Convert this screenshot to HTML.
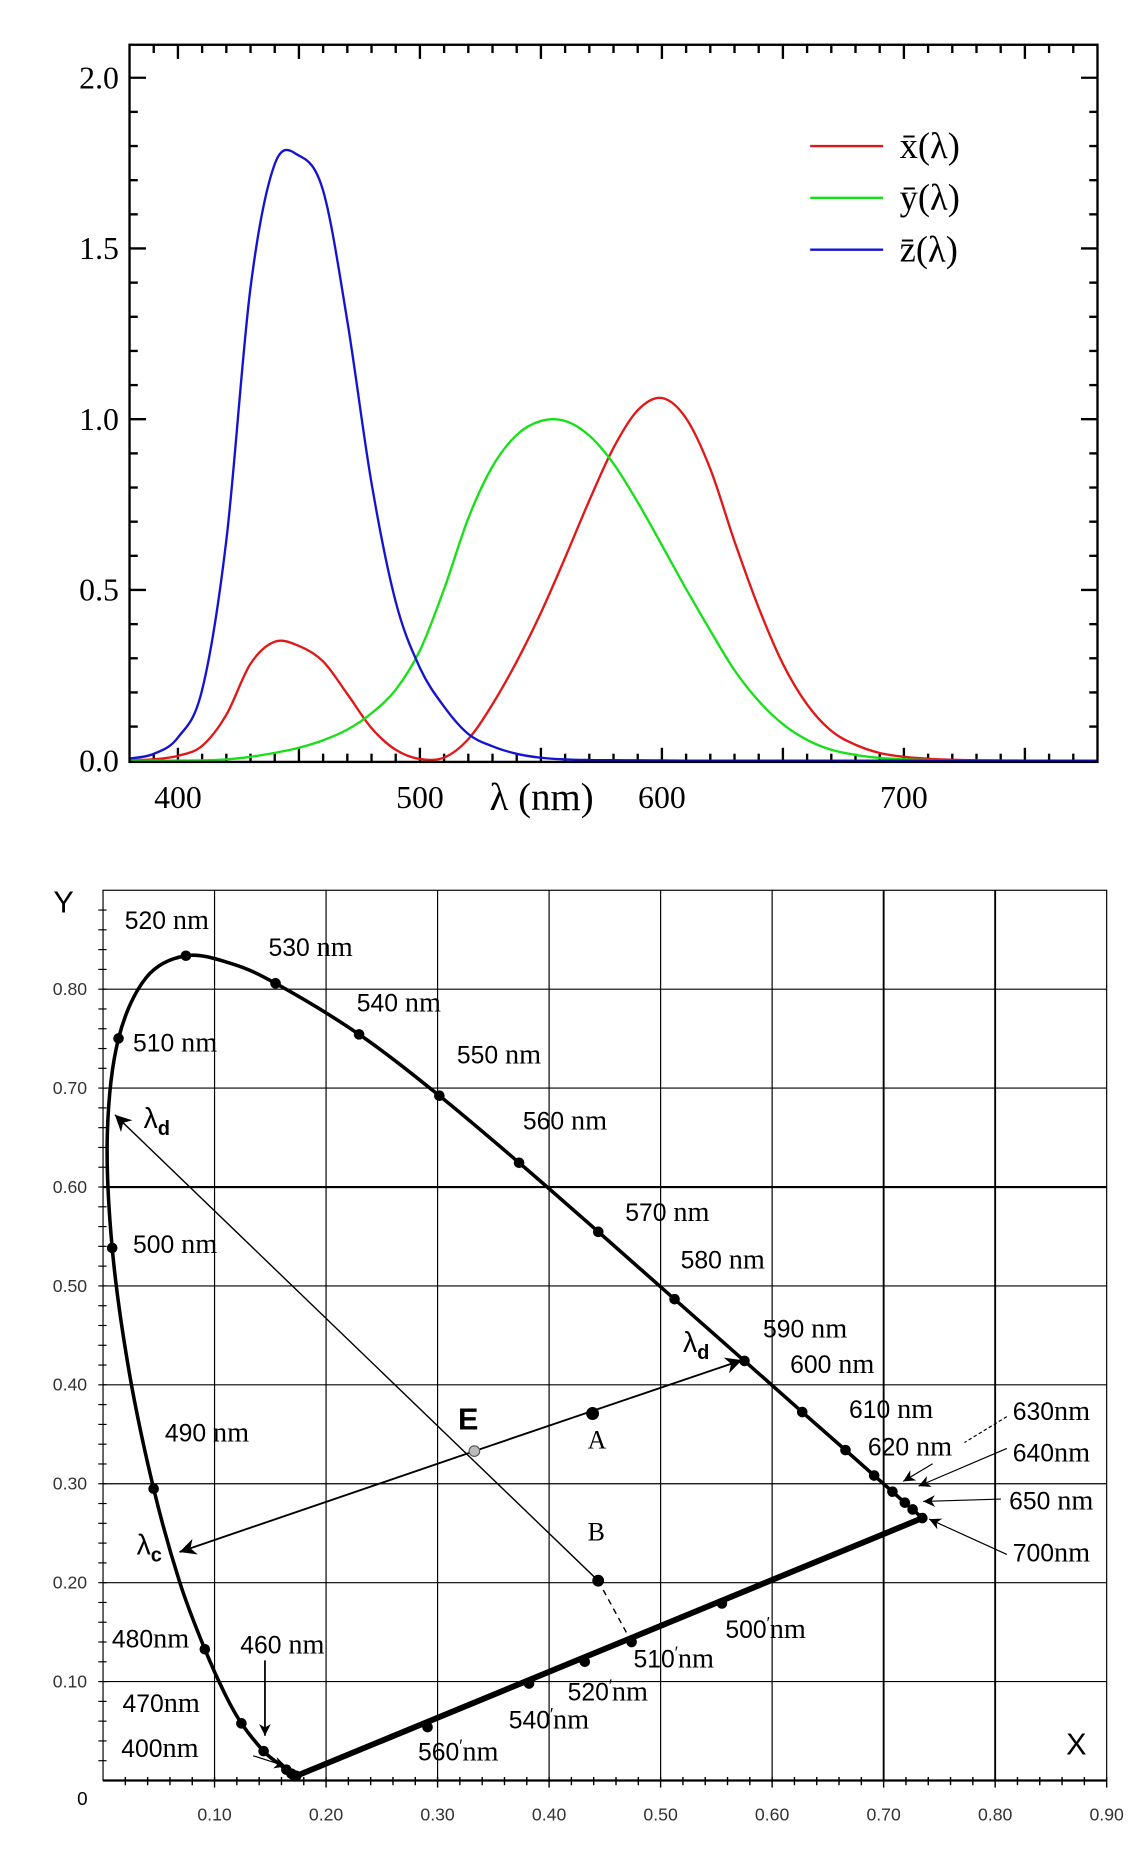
<!DOCTYPE html>
<html><head><meta charset="utf-8">
<style>
html,body{margin:0;padding:0;background:#fff;}
svg{display:block;}
</style></head>
<body>
<svg id="root" xmlns="http://www.w3.org/2000/svg" width="1140" height="1850" viewBox="0 0 968.1 1571">
<rect x="0" y="0" width="968.1" height="1571" fill="#fff"/>
<g id="top"></g>
<g id="bot"></g>
</svg>
<script>
// ---- Top chart data (CIE 1931 colour matching functions) ----
const wavelengths = [380,390,400,410,420,430,440,450,460,470,480,490,500,510,520,530,540,550,560,570,580,590,600,610,620,630,640,650,660,670,680,690,700,710,720,730,740,750,760,770,780];
const xBar = [0.0014,0.0042,0.0143,0.0435,0.1344,0.2839,0.3483,0.3362,0.2908,0.1954,0.0956,0.0320,0.0049,0.0093,0.0633,0.1655,0.2904,0.4334,0.5945,0.7621,0.9163,1.0263,1.0622,1.0026,0.8544,0.6424,0.4479,0.2835,0.1649,0.0874,0.0468,0.0227,0.0114,0.0058,0.0029,0.0014,0.0007,0.0003,0.0002,0.0001,0.0000];
const yBar = [0.0000,0.0001,0.0004,0.0012,0.0040,0.0116,0.0230,0.0380,0.0600,0.0910,0.1390,0.2080,0.3230,0.5030,0.7100,0.8620,0.9540,0.9950,0.9950,0.9520,0.8700,0.7570,0.6310,0.5030,0.3810,0.2650,0.1750,0.1070,0.0610,0.0320,0.0170,0.0082,0.0041,0.0021,0.0010,0.0005,0.0003,0.0001,0.0001,0.0000,0.0000];
const zBar = [0.0065,0.0201,0.0679,0.2074,0.6456,1.3856,1.7471,1.7721,1.6692,1.2876,0.8130,0.4652,0.2720,0.1582,0.0782,0.0422,0.0203,0.0087,0.0039,0.0021,0.0017,0.0011,0.0008,0.0003,0.0002,0,0,0,0,0,0,0,0,0,0,0,0,0,0,0,0];
const topYTicks = ["0.0","0.5","1.0","1.5","2.0"];
const topXTicks = [400,500,600,700];

// ---- Bottom chart data (CIE 1931 chromaticity) ----
const locusNm = [380,400,420,430,440,450,460,470,475,480,485,490,495,500,505,510,515,520,525,530,540,550,560,570,580,590,600,610,620,630,640,650,700];
const locusX = [0.1741,0.1733,0.1714,0.1689,0.1644,0.1566,0.1440,0.1241,0.1096,0.0913,0.0687,0.0454,0.0235,0.0082,0.0039,0.0139,0.0389,0.0743,0.1142,0.1547,0.2296,0.3016,0.3731,0.4441,0.5125,0.5752,0.6270,0.6658,0.6915,0.7079,0.7190,0.7260,0.7347];
const locusY = [0.0050,0.0048,0.0051,0.0069,0.0109,0.0177,0.0297,0.0578,0.0868,0.1327,0.2007,0.2950,0.4127,0.5384,0.6548,0.7502,0.8120,0.8338,0.8262,0.8059,0.7543,0.6923,0.6245,0.5547,0.4866,0.4242,0.3725,0.3340,0.3083,0.2920,0.2809,0.2740,0.2653];
const dotNm = [400,420,430,440,460,470,480,490,500,510,520,530,540,550,560,570,580,590,600,610,620,630,640,650,700];
const purpleNames = ["560'","540'","520'","510'","500'"];
const purpleX = [0.291,0.382,0.432,0.474,0.555];
const purpleY = [0.054,0.098,0.120,0.140,0.179];
const pointE = [0.333,0.333];
const pointA = [0.439,0.371];
const pointB = [0.444,0.202];
const lambdaD1 = [0.0106,0.673];
const lambdaD2 = [0.573,0.425];
const lambdaC = [0.0686,0.231];
const chromTicks = ["0.10","0.20","0.30","0.40","0.50","0.60","0.70","0.80","0.90"];
const chromYTicks = ["0.10","0.20","0.30","0.40","0.50","0.60","0.70","0.80"];

const NS="http://www.w3.org/2000/svg";
function mk(parent,tag,attrs,txt){const e=document.createElementNS(NS,tag);for(const k in attrs)e.setAttribute(k,attrs[k]);if(txt!==undefined)e.textContent=txt;parent.appendChild(e);return e;}
function smooth(pts){let d="M"+pts[0][0].toFixed(2)+","+pts[0][1].toFixed(2);for(let i=0;i<pts.length-1;i++){const p0=pts[i-1]||pts[i],p1=pts[i],p2=pts[i+1],p3=pts[i+2]||p2;const c1=[p1[0]+(p2[0]-p0[0])/6,p1[1]+(p2[1]-p0[1])/6],c2=[p2[0]-(p3[0]-p1[0])/6,p2[1]-(p3[1]-p1[1])/6];d+="C"+c1[0].toFixed(2)+","+c1[1].toFixed(2)+" "+c2[0].toFixed(2)+","+c2[1].toFixed(2)+" "+p2[0].toFixed(2)+","+p2[1].toFixed(2);}return d;}

// ===== TOP CHART =====
const T=document.getElementById('top');
const tL=110,tR=932,tT=38,tB=647;
const tx=nm=>tL+(nm-380)/400*(tR-tL);
const ty=v=>646-v*290;
const serif='"Liberation Serif", serif';
for(let nm=390;nm<780;nm+=10){const long=nm%50===0;const len=long?12:7;
 let t=mk(T,'line',{x1:tx(nm),x2:tx(nm),y1:tT,y2:tT+len,stroke:'#000','stroke-width':2});
 
 t=mk(T,'line',{x1:tx(nm),x2:tx(nm),y1:tB,y2:tB-len,stroke:'#000','stroke-width':2});
 }
for(let i=1;i<=20;i++){const v=i/10;const long=i%5===0;const len=long?14:7;
 let t=mk(T,'line',{x1:tL,x2:tL+len,y1:ty(v),y2:ty(v),stroke:'#000','stroke-width':2});
 
 t=mk(T,'line',{x1:tR,x2:tR-len,y1:ty(v),y2:ty(v),stroke:'#000','stroke-width':2});
 }
topYTicks.forEach(s=>{const t=mk(T,'text',{x:101,y:ty(parseFloat(s))+9,'font-family':serif,'font-size':27,'text-anchor':'end'},s);
 });
topXTicks.forEach(n=>{const t=mk(T,'text',{x:tx(n),y:686,'font-family':serif,'font-size':27,'text-anchor':'middle'},String(n));
 });
let xl=mk(T,'text',{x:460,y:688,'font-family':serif,'font-size':33,'text-anchor':'middle'},'λ (nm)');

[[xBar,'#e01818','curve-x-bar'],[yBar,'#18e018','curve-y-bar'],[zBar,'#1414d0','curve-z-bar']].forEach(([arr,c,n])=>{
 const p=mk(T,'path',{d:smooth(wavelengths.map((w,i)=>[tx(w),ty(arr[i])])),fill:'none',stroke:c,'stroke-width':2});
 });
let fr=mk(T,'rect',{x:tL,y:tT,width:tR-tL,height:tB-tT,fill:'none',stroke:'#000','stroke-width':2});

[['x̄(λ)','#e01818',124],['ȳ(λ)','#18e018',168],['z̄(λ)','#1414d0',212]].forEach(([s,c,y])=>{
 const g=mk(T,'g',{});
 mk(g,'line',{x1:688,x2:750,y1:y,y2:y,stroke:c,'stroke-width':2});
 mk(g,'text',{x:764,y:y+10,'font-family':serif,'font-size':31},s);});

// ===== BOTTOM CHART =====
const B=document.getElementById('bot');
const bx=v=>87.5+v*947;
const by=v=>1512-v*840;
const sans='"Liberation Sans", sans-serif';
for(let i=1;i<=8;i++){const v=i/10;
 let g=mk(B,'line',{x1:bx(v),x2:bx(v),y1:by(0.9),y2:by(0),stroke:'#000','stroke-width':(i===7||i===8)?1.6:1});
 
 g=mk(B,'line',{x1:bx(0),x2:bx(0.9),y1:by(v),y2:by(v),stroke:'#000','stroke-width':i===6?1.8:1});
 }
let bf=mk(B,'rect',{x:bx(0),y:by(0.9),width:bx(0.9)-bx(0),height:by(0)-by(0.9),fill:'none',stroke:'#000','stroke-width':1});

let ax=mk(B,'line',{x1:bx(0),x2:bx(0.9),y1:by(0),y2:by(0),stroke:'#000','stroke-width':2});

for(let i=1;i<=45;i++){const v=i/50;const len=i%5===0?6:4;
 const t=mk(B,'line',{x1:bx(v),x2:bx(v),y1:by(0)-3,y2:by(0)+len,stroke:'#000','stroke-width':1.2});
 }
for(let i=1;i<=44;i++){const v=i/50;
 const t=mk(B,'line',{x1:bx(0)-4,x2:bx(0)+3,y1:by(v),y2:by(v),stroke:'#000','stroke-width':1});
 }
chromTicks.forEach(s=>{const t=mk(B,'text',{x:bx(parseFloat(s)),y:1546,'font-family':sans,'font-size':15,fill:'#333','text-anchor':'middle'},s);
 });
chromYTicks.forEach(s=>{const t=mk(B,'text',{x:74,y:by(parseFloat(s))+5,'font-family':sans,'font-size':15,fill:'#333','text-anchor':'end'},s);
 });
let z=mk(B,'text',{x:70,y:1533,'font-family':sans,'font-size':16,'text-anchor':'middle'},'0');

let ya=mk(B,'text',{x:54,y:775,'font-family':sans,'font-size':26,'text-anchor':'middle'},'Y');

let xa=mk(B,'text',{x:914,y:1490,'font-family':sans,'font-size':26,'text-anchor':'middle'},'X');

let loc=mk(B,'path',{d:smooth(locusX.map((x,i)=>[bx(x),by(locusY[i])])),fill:'none',stroke:'#000','stroke-width':3});

const last=locusX.length-1;
let pl=mk(B,'line',{x1:bx(locusX[0]),y1:by(locusY[0]),x2:bx(locusX[last]),y2:by(locusY[last]),stroke:'#000','stroke-width':5});

dotNm.forEach(n=>{const i=locusNm.indexOf(n);const d=mk(B,'circle',{cx:bx(locusX[i]),cy:by(locusY[i]),r:4.5,fill:'#000'});
 });
purpleX.forEach((x,i)=>{const d=mk(B,'circle',{cx:bx(x),cy:by(purpleY[i]),r:4.5,fill:'#000'});
 });
const defs=mk(B,'defs',{});
const m=mk(defs,'marker',{id:'ah',viewBox:'0 0 10 10',refX:10,refY:5,markerWidth:14,markerHeight:10,orient:'auto',markerUnits:'userSpaceOnUse'});
mk(m,'path',{d:'M0,0 L10,5 L0,10 L3,5 z',fill:'#000'});
const m2=mk(defs,'marker',{id:'ah2',viewBox:'0 0 10 10',refX:10,refY:5,markerWidth:22,markerHeight:14,orient:'auto',markerUnits:'userSpaceOnUse'});
mk(m2,'path',{d:'M0,0 L10,5 L0,10 L3,5 z',fill:'#000'});
function line(p,q,w,name,mark,dash){const l=mk(B,'line',{x1:p[0],y1:p[1],x2:q[0],y2:q[1],stroke:'#000','stroke-width':w});
 if(mark)l.setAttribute('marker-end','url(#'+mark+')');if(dash)l.setAttribute('stroke-dasharray',dash);
 return l;}
const P=a=>[bx(a[0]),by(a[1])];
line(P(pointE),P(lambdaD2),1.6,'line-e-to-dominant','ah2');
line(P(pointE),P(lambdaC),1.6,'line-e-to-complementary','ah2');
line(P(pointB),P(lambdaD1),1.2,'line-b-to-dominant','ah2');
line(P(pointB),P([purpleX[3],purpleY[3]]),1.2,'line-b-to-purple',null,'5,4');
[[pointA,'#000',5.5,'point-a'],[pointB,'#000',5,'point-b'],[pointE,'#bbb',4.5,'point-e']].forEach(([p,c,r,n])=>{
 const d=mk(B,'circle',{cx:bx(p[0]),cy:by(p[1]),r:r,fill:c,stroke:n==='point-e'?'#555':'none','stroke-width':1});
 });
line([225,1410],[225,1474],1.5,'arrow-460','ah');
line([215,1491],[243,1500],1,'pointer-400','ah');
line([855,1203],[819,1225],1,'pointer-630',null,'3,2');
line([792,1243],[767,1258],1,'arrow-620','ah');
line([855,1230],[780,1262],1,'arrow-640','ah');
line([850,1273],[784,1275],1,'arrow-650','ah');
line([855,1320],[789,1290],1,'arrow-700','ah');
const labels=[
 ['520 nm',106,789],['530 nm',228,812],['540 nm',303,859],['550 nm',388,903],['560 nm',444,959],
 ['570 nm',531,1037],['580 nm',578,1077],['590 nm',648,1136],['600 nm',671,1166],['610 nm',721,1204],
 ['620 nm',737,1236],['630nm',860,1206],['640nm',860,1241],['650 nm',857,1282],['700nm',860,1326],
 ['510 nm',113,893],['500 nm',113,1064],['490 nm',140,1224],['480nm',95,1399],['460 nm',204,1404],
 ['470nm',104,1454],['400nm',103,1492]];
labels.forEach(([s,x,y])=>{const parts=s.split(/(nm)/);const t=mk(B,'text',{x:x,y:y,'font-family':sans,'font-size':21});
 
 mk(t,'tspan',{},parts[0]);mk(t,'tspan',{'font-family':serif,'font-size':24},'nm');});
const plabels=[["560'",355,1495],["540'",432,1468],["520'",482,1444],["510'",538,1416],["500'",616,1391]];
plabels.forEach(([s,x,y])=>{const t=mk(B,'text',{x:x,y:y,'font-family':sans,'font-size':21});
 
 mk(t,'tspan',{},s.replace("'",""));mk(t,'tspan',{'font-size':14,dy:-8},"′");mk(t,'tspan',{'font-family':serif,'font-size':24,dy:8},'nm');});
let e=mk(B,'text',{x:389,y:1214,'font-family':sans,'font-size':26,'font-weight':'bold'},'E');

let a=mk(B,'text',{x:499,y:1230,'font-family':serif,'font-size':22},'A');

let bb=mk(B,'text',{x:499,y:1308,'font-family':serif,'font-size':22},'B');

[['d',122,958,'label-lambda-d-left'],['d',580,1148,'label-lambda-d-right'],['c',116,1320,'label-lambda-c']].forEach(([sub,x,y,n])=>{
 const t=mk(B,'text',{x:x,y:y,'font-family':sans,'font-size':24});
 mk(t,'tspan',{},'λ');mk(t,'tspan',{'font-size':17,dy:6,'font-weight':'bold'},sub);});
</script>
</body></html>
